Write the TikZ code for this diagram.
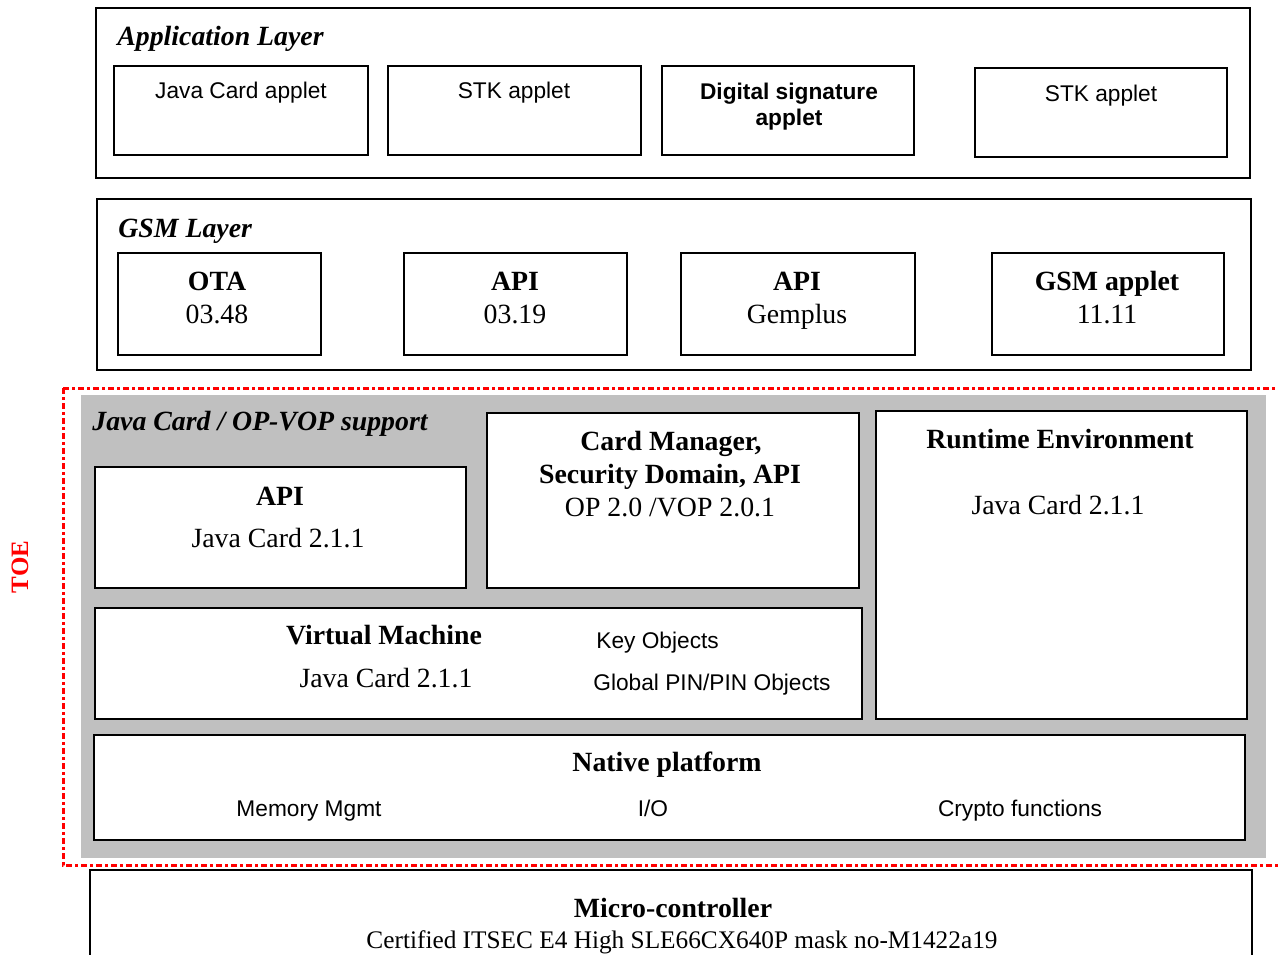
\documentclass[tikz,border=0pt]{standalone}
\usepackage{fontspec}
\setmainfont{Liberation Serif}
\newfontfamily\arialfont{Liberation Sans}
\usepackage{xcolor}
\usepackage{tikz}
\usetikzlibrary{positioning, backgrounds}
\definecolor{ToeRed}{RGB}{255, 0, 0}
\definecolor{SupportGray}{RGB}{192, 192, 192}
\tikzset{
	layerbox/.style={draw=black, line width=1pt},
	title/.style={font=\fontsize{13.9}{16}\selectfont\bfseries\itshape, anchor=base west, inner sep=0pt},
	head/.style={font=\fontsize{13.9}{16}\selectfont\bfseries, anchor=base, inner sep=0pt},
	plain/.style={font=\fontsize{13.9}{16}\selectfont, anchor=base, inner sep=0pt},
	applet/.style={font=\arialfont\fontsize{11.35}{13.5}\selectfont, anchor=base, inner sep=0pt},
	toeline/.style={draw=ToeRed, line width=1.5pt, dash pattern=on 3pt off 1.5pt on 1.5pt off 1.5pt},
}

\begin{document}
\begin{tikzpicture}[x=0.5pt, y=-0.5pt]
	\clip (0,0) rectangle (1278,954);
	\fill[white] (0,0) rectangle (1278,954);

	% application layer
	\draw[layerbox] (96,8) rectangle (1250,178);
	\node[title] (applayer) at (117,45) {Application Layer};
	\foreach \n/\xa/\ya/\xb/\yb in {jcapplet/114/66/368/155, stkapplet/388/66/641/155, sigapplet/662/66/914/155, stkappletb/975/68/1227/157}
		\draw[layerbox] (\xa,\ya) rectangle (\xb,\yb);
	\node[applet] (jcappletlbl) at (241,98) {Java Card applet};
	\node[applet] (stkappletlbl) at (514,98) {STK applet};
	\node[applet, font=\arialfont\fontsize{11.35}{13.5}\selectfont\bfseries] (sigappletlbl) at (789,99) {Digital signature};
	\node[applet, font=\arialfont\fontsize{11.35}{13.5}\selectfont\bfseries] (sigappletlblb) at (789,125) {applet};
	\node[applet] (stkappletblbl) at (1101,101) {STK applet};

	% gsm layer
	\draw[layerbox] (97,199) rectangle (1251,370);
	\node[title] (gsmlayer) at (118,237) {GSM Layer};
	\foreach \n/\xa/\xb/\cx/\h/\s in {ota/118/321/217/OTA/03.48, apiA/404/627/515/API/03.19, apiB/681/915/797/API/Gemplus, gsmapplet/992/1224/1107/GSM applet/11.11}
	{
		\draw[layerbox] (\xa,253) rectangle (\xb,355);
		\node[head] (\n-head) at (\cx,290) {\h};
		\node[plain] (\n-sub) at (\cx,323) {\s};
	}

	% TOE
	\fill[SupportGray] (81,395) rectangle (1266,858);
	\draw[toeline] (63,388) -- (1290,388);
	\draw[toeline] (63,388) -- (63,865) -- (1290,865);
	\node[head, anchor=center, text=ToeRed, rotate=90, font=\fontsize{12.5}{15}\selectfont\bfseries] (toe) at (20,567) {TOE};

	\node[title] (jcsupport) at (92,430) {Java Card / OP-VOP support};

	\draw[layerbox, fill=white] (95,467) rectangle (466,588);
	\node[head] (jcapi) at (280,505) {API};
	\node[plain] (jcapiver) at (278,547) {Java Card 2.1.1};

	\draw[layerbox, fill=white] (487,413) rectangle (859,588);
	\node[head] (cardmgr) at (671,450) {Card Manager,};
	\node[head] (secdomain) at (670,483) {Security Domain, API};
	\node[plain] (opvop) at (670,516) {OP 2.0 /VOP 2.0.1};

	\draw[layerbox, fill=white] (876,411) rectangle (1247,719);
	\node[head] (runtime) at (1060,448) {Runtime Environment};
	\node[plain] (runtimever) at (1058,514) {Java Card 2.1.1};

	\draw[layerbox, fill=white] (95,608) rectangle (862,719);
	\node[head] (vm) at (384,644) {Virtual Machine};
	\node[plain] (vmver) at (386,687) {Java Card 2.1.1};
	\node[applet, anchor=base west] (keyobj) at (596,648) {Key Objects};
	\node[applet, anchor=base west] (pinobj) at (593,690) {Global PIN/PIN Objects};

	\draw[layerbox, fill=white] (94,735) rectangle (1245,840);
	\node[head] (native) at (667,771) {Native platform};
	\node[applet] (memory) at (309,816) {Memory Mgmt};
	\node[applet] (io) at (653,816) {I/O};
	\node[applet] (crypto) at (1020,816) {Crypto functions};

	% micro-controller
	\draw[layerbox] (90,870) rectangle (1252,980);
	\node[head] (micro) at (673,917) {Micro-controller};
	\node[plain, font=\fontsize{12.65}{15}\selectfont] (certified) at (682,948) {Certified ITSEC E4 High SLE66CX640P mask no-M1422a19};
\end{tikzpicture}
\end{document}
